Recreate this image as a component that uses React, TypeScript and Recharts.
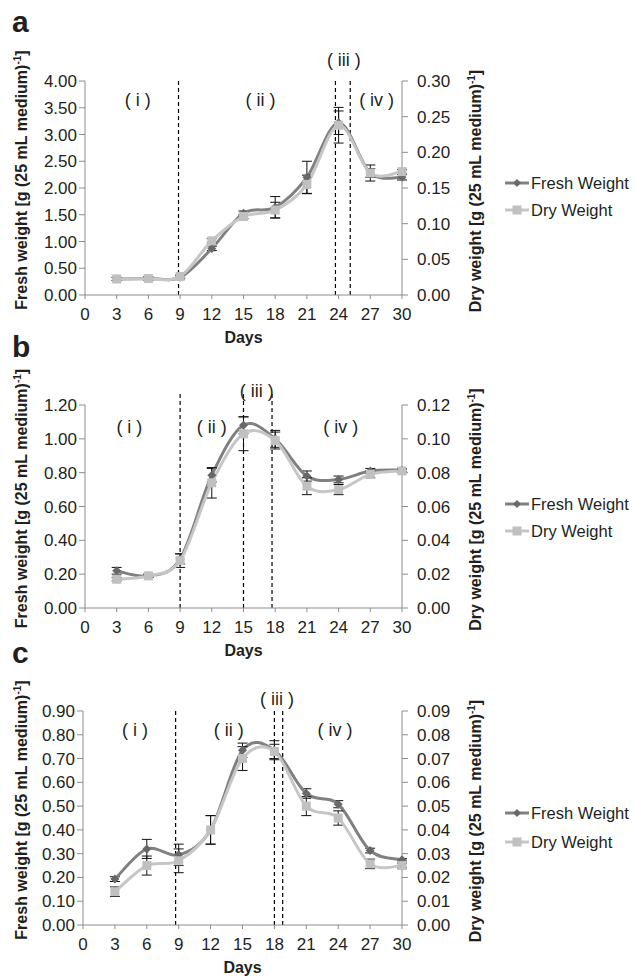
import React from "react";
import { LineChart, Line, XAxis, YAxis, ReferenceLine, ReferenceDot, ErrorBar } from "recharts";

const days = [3, 6, 9, 12, 15, 18, 21, 24, 27, 30];
const xTicks = [0, 3, 6, 9, 12, 15, 18, 21, 24, 27, 30];
const phaseNames = ["( i )", "( ii )", "( iii )", "( iv )"];

// panel a
const freshA = [0.3, 0.31, 0.33, 0.87, 1.53, 1.64, 2.2, 3.22, 2.28, 2.2];
const freshErrA = [0.03, 0.03, 0.03, 0.04, 0.04, 0.2, 0.3, 0.22, 0.15, 0.05];
const dryA = [0.0225, 0.023, 0.026, 0.076, 0.11, 0.119, 0.155, 0.238, 0.171, 0.173];
const dryErrA = [0.002, 0.002, 0.002, 0.003, 0.003, 0.011, 0.013, 0.025, 0.006, 0.003];
const leftTicksA = [0, 0.5, 1, 1.5, 2, 2.5, 3, 3.5, 4];
const rightTicksA = [0, 0.05, 0.1, 0.15, 0.2, 0.25, 0.3];
const boundariesA = [8.85, 23.7, 25.1];
const labelDaysA = [5.0, 16.6, 24.5, 27.6];
const labelLevelsA = [3.64, 3.64, 4.39, 3.64];

// panel b
const freshB = [0.22, 0.19, 0.29, 0.785, 1.08, 1.0, 0.78, 0.76, 0.81, 0.815];
const freshErrB = [0.02, 0.01, 0.03, 0.04, 0.05, 0.05, 0.03, 0.02, 0.015, 0.01];
const dryB = [0.017, 0.019, 0.028, 0.074, 0.103, 0.099, 0.072, 0.07, 0.079, 0.081];
const dryErrB = [0.001, 0.001, 0.004, 0.009, 0.01, 0.005, 0.005, 0.003, 0.002, 0.001];
const leftTicksB = [0, 0.2, 0.4, 0.6, 0.8, 1.0, 1.2];
const rightTicksB = [0, 0.02, 0.04, 0.06, 0.08, 0.1, 0.12];
const boundariesB = [9.0, 15.0, 17.7];
const labelDaysB = [4.2, 12.0, 16.25, 24.2];
const labelLevelsB = [1.07, 1.07, 1.28, 1.07];

// panel c
const freshC = [0.193, 0.32, 0.295, 0.4, 0.735, 0.735, 0.553, 0.508, 0.313, 0.274];
const freshErrC = [0.01, 0.04, 0.045, 0.06, 0.03, 0.04, 0.02, 0.015, 0.01, 0.005];
const dryC = [0.014, 0.025, 0.027, 0.04, 0.07, 0.073, 0.05, 0.045, 0.0257, 0.025];
const dryErrC = [0.002, 0.004, 0.005, 0.006, 0.005, 0.003, 0.004, 0.003, 0.002, 0.001];
const leftTicksC = [0, 0.1, 0.2, 0.3, 0.4, 0.5, 0.6, 0.7, 0.8, 0.9];
const rightTicksC = [0, 0.01, 0.02, 0.03, 0.04, 0.05, 0.06, 0.07, 0.08, 0.09];
const boundariesC = [8.71, 18.0, 18.78];
const labelDaysC = [4.9, 13.7, 18.25, 23.7];
const labelLevelsC = [0.819, 0.819, 0.952, 0.819];

const TEXT = "#231f20";
const AXIS = "#8c8c8c";
const FRESH_LINE = "#808080";
const FRESH_DOT = "#686868";
const DRY_LINE = "#c6c6c6";
const DRY_DOT = "#c0c0c0";
const FONT = "'Liberation Sans', Arial, sans-serif";

// Excel-like smoothed line (cardinal spline through the points)
const excelSmooth: any = (context: any) => {
  let pts: number[][] = [];
  return {
    areaStart() {},
    areaEnd() {},
    lineStart() {
      pts = [];
    },
    point(x: number, y: number) {
      pts.push([+x, +y]);
    },
    lineEnd() {
      const n = pts.length;
      if (!n) return;
      context.moveTo(pts[0][0], pts[0][1]);
      for (let i = 0; i < n - 1; i++) {
        const p0 = pts[i - 1] || pts[i];
        const p1 = pts[i];
        const p2 = pts[i + 1];
        const p3 = pts[i + 2] || p2;
        context.bezierCurveTo(
          p1[0] + (p2[0] - p0[0]) / 6,
          p1[1] + (p2[1] - p0[1]) / 6,
          p2[0] - (p3[0] - p1[0]) / 6,
          p2[1] - (p3[1] - p1[1]) / 6,
          p2[0],
          p2[1]
        );
      }
    },
  };
};

const diamond = (props: any) => {
  const { cx, cy, index } = props;
  if (cx == null || cy == null) return <g key={`fd-${index}`} />;
  const r = 4.5;
  return (
    <polygon
      key={`fd-${index}`}
      points={`${cx},${cy - r} ${cx + r},${cy} ${cx},${cy + r} ${cx - r},${cy}`}
      fill={FRESH_DOT}
    />
  );
};

const square = (props: any) => {
  const { cx, cy, index } = props;
  if (cx == null || cy == null) return <g key={`ds-${index}`} />;
  return <rect key={`ds-${index}`} x={cx - 4.5} y={cy - 4.5} width={9} height={9} fill={DRY_DOT} />;
};

const sup = (text: string) => (
  <>
    {text}
    <tspan dy={-6} fontSize={10}>-1</tspan>
    <tspan dy={6}>]</tspan>
  </>
);

const yTitle = (text: string, x: number, shift: number) => (props: any) => {
  const vb = props.viewBox || {};
  const cy = vb.y + vb.height / 2 + shift;
  return (
    <text
      x={x}
      y={cy}
      transform={`rotate(-90 ${x} ${cy})`}
      textAnchor="middle"
      fontWeight="bold"
      fontSize={16}
      fill={TEXT}
    >
      {sup(text)}
    </text>
  );
};

const daysTitle = (props: any) => {
  const vb = props.viewBox || {};
  return (
    <text x={vb.x + vb.width / 2} y={vb.y + 48} textAnchor="middle" fontWeight="bold" fontSize={16} fill={TEXT}>
      Days
    </text>
  );
};

const phaseLabel = (name: string) => (props: any) => {
  const vb = props.viewBox || {};
  return (
    <text x={vb.x + (vb.width || 0) / 2} y={vb.y + (vb.height || 0) / 2 + 6} textAnchor="middle" fontSize={18} fill={TEXT}>
      {name}
    </text>
  );
};

type PanelProps = {
  top: number;
  height: number;
  marginTop: number;
  xAxisHeight: number;
  leftWidth: number;
  fresh: number[];
  freshErr: number[];
  dry: number[];
  dryErr: number[];
  leftTicks: number[];
  rightTicks: number[];
  boundaries: number[];
  boundaryTop: number;
  labelDays: number[];
  labelLevels: number[];
};

function Panel(p: PanelProps) {
  const data = days.map((d, i) => ({
    day: d,
    fresh: p.fresh[i],
    freshErr: p.freshErr[i],
    dry: p.dry[i],
    dryErr: p.dryErr[i],
  }));
  const leftMax = p.leftTicks[p.leftTicks.length - 1];
  const rightMax = p.rightTicks[p.rightTicks.length - 1];
  return (
    <div style={{ position: "absolute", left: 0, top: p.top, width: 635, height: p.height }}>
      <LineChart width={635} height={p.height} data={data} margin={{ top: p.marginTop, right: 0, bottom: 0, left: 0 }}>
        <XAxis
          dataKey="day"
          type="number"
          domain={[0, 30]}
          ticks={xTicks}
          interval={0}
          height={p.xAxisHeight}
          stroke={AXIS}
          tickSize={4}
          tickMargin={9}
          tick={{ fontSize: 17, fill: TEXT }}
          label={{ content: daysTitle }}
        />
        <YAxis
          yAxisId="left"
          domain={[0, leftMax]}
          ticks={p.leftTicks}
          interval={0}
          width={p.leftWidth}
          stroke={AXIS}
          tickSize={6}
          tickMargin={2}
          tick={{ fontSize: 17, fill: TEXT }}
          tickFormatter={(v: number) => v.toFixed(2)}
          label={{ content: yTitle("Fresh weight [g (25 mL medium)", 27, -8) }}
        />
        <YAxis
          yAxisId="right"
          orientation="right"
          domain={[0, rightMax]}
          ticks={p.rightTicks}
          interval={0}
          width={233}
          stroke={AXIS}
          tickSize={6}
          tickMargin={9}
          tick={{ fontSize: 17, fill: TEXT }}
          tickFormatter={(v: number) => v.toFixed(2)}
          label={{ content: yTitle("Dry weight [g (25 mL medium)", 481, 3) }}
        />
        {p.boundaries.map((b) => (
          <ReferenceLine
            key={`b-${b}`}
            yAxisId="left"
            segment={[
              { x: b, y: 0 },
              { x: b, y: p.boundaryTop },
            ]}
            ifOverflow="visible"
            stroke="#000"
            strokeWidth={1.2}
            strokeDasharray="4 3"
          />
        ))}
        {phaseNames.map((n, i) => (
          <ReferenceDot
            key={n}
            yAxisId="left"
            x={p.labelDays[i]}
            y={p.labelLevels[i]}
            r={0}
            fill="none"
            stroke="none"
            ifOverflow="visible"
            label={{ content: phaseLabel(n) }}
          />
        ))}
        <Line
          yAxisId="left"
          dataKey="fresh"
          type={excelSmooth}
          stroke={FRESH_LINE}
          strokeWidth={3}
          dot={diamond}
          activeDot={false}
          isAnimationActive={false}
        >
          <ErrorBar dataKey="freshErr" direction="y" width={5} stroke="#111" strokeWidth={1} isAnimationActive={false} />
        </Line>
        <Line
          yAxisId="right"
          dataKey="dry"
          type={excelSmooth}
          stroke={DRY_LINE}
          strokeWidth={3}
          dot={square}
          activeDot={false}
          isAnimationActive={false}
        >
          <ErrorBar dataKey="dryErr" direction="y" width={5} stroke="#111" strokeWidth={1} isAnimationActive={false} />
        </Line>
      </LineChart>
    </div>
  );
}

const legendRows = [183, 210, 504, 531, 813, 842];
const panelLetters = ["a", "b", "c"];
const letterBaselines = [32, 357, 663];

export default function App() {
  return (
    <div style={{ position: "absolute", left: 0, top: 0, width: 635, height: 978, background: "#fff", fontFamily: FONT }}>
      <Panel
        top={0}
        height={360}
        marginTop={81}
        xAxisHeight={65}
        leftWidth={85}
        fresh={freshA}
        freshErr={freshErrA}
        dry={dryA}
        dryErr={dryErrA}
        leftTicks={leftTicksA}
        rightTicks={rightTicksA}
        boundaries={boundariesA}
        boundaryTop={4}
        labelDays={labelDaysA}
        labelLevels={labelLevelsA}
      />
      <Panel
        top={345}
        height={330}
        marginTop={60}
        xAxisHeight={67}
        leftWidth={85}
        fresh={freshB}
        freshErr={freshErrB}
        dry={dryB}
        dryErr={dryErrB}
        leftTicks={leftTicksB}
        rightTicks={rightTicksB}
        boundaries={boundariesB}
        boundaryTop={1.27}
        labelDays={labelDaysB}
        labelLevels={labelLevelsB}
      />
      <Panel
        top={660}
        height={318}
        marginTop={51}
        xAxisHeight={53}
        leftWidth={83}
        fresh={freshC}
        freshErr={freshErrC}
        dry={dryC}
        dryErr={dryErrC}
        leftTicks={leftTicksC}
        rightTicks={rightTicksC}
        boundaries={boundariesC}
        boundaryTop={0.9}
        labelDays={labelDaysC}
        labelLevels={labelLevelsC}
      />
      <svg width={635} height={978} style={{ position: "absolute", left: 0, top: 0, pointerEvents: "none" }}>
        {panelLetters.map((l, i) => (
          <text key={l} x={12} y={letterBaselines[i]} fontSize={30} fontWeight="bold" fill={TEXT}>
            {l}
          </text>
        ))}
        {legendRows.map((y, i) => {
          const isFresh = i % 2 === 0;
          return (
            <g key={`lg-${i}`}>
              <line x1={505} x2={529} y1={y} y2={y} stroke={isFresh ? FRESH_LINE : DRY_LINE} strokeWidth={3} />
              {isFresh ? (
                <polygon points={`517,${y - 4} 521,${y} 517,${y + 4} 513,${y}`} fill={FRESH_DOT} />
              ) : (
                <rect x={512.5} y={y - 4.5} width={9} height={9} fill={DRY_DOT} />
              )}
              <text x={531} y={y + 6} fontSize={16.5} fill={TEXT}>
                {isFresh ? "Fresh Weight" : "Dry Weight"}
              </text>
            </g>
          );
        })}
      </svg>
    </div>
  );
}
